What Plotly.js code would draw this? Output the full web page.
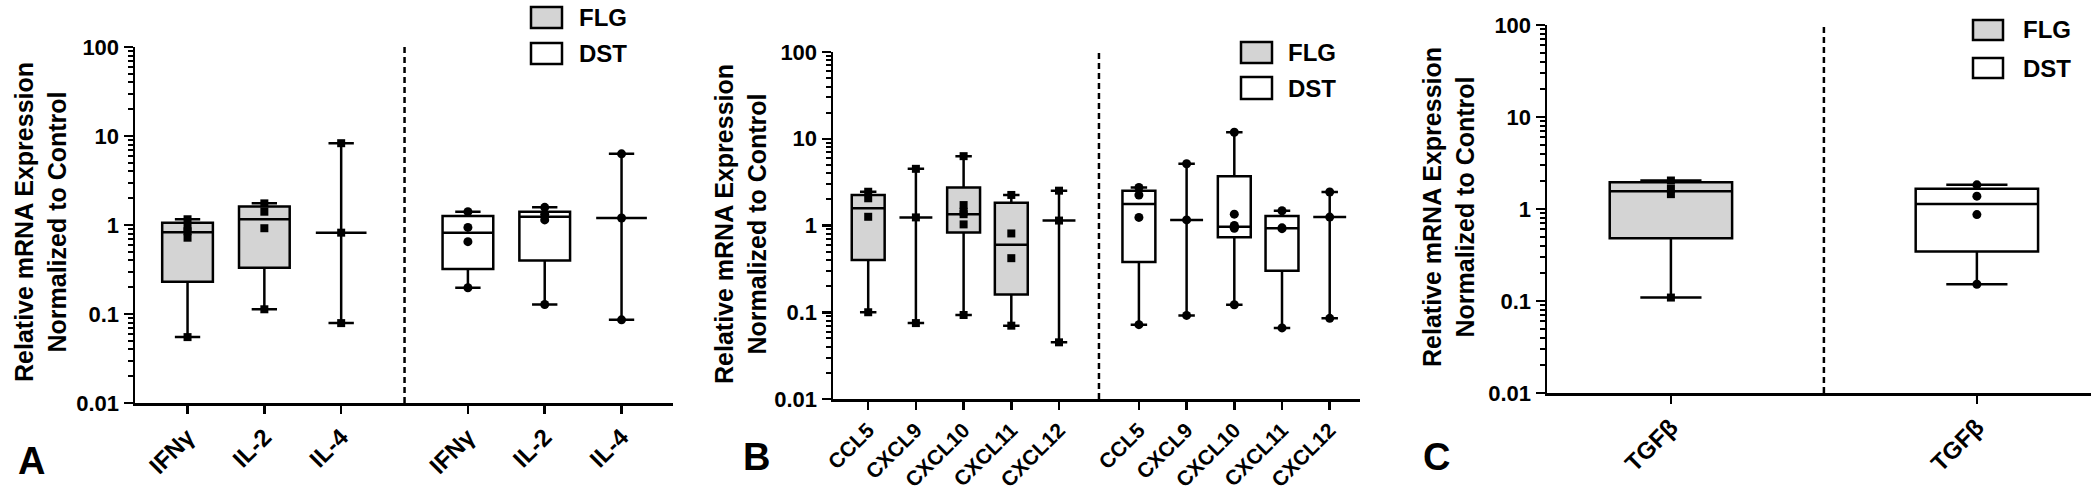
<!DOCTYPE html>
<html><head><meta charset="utf-8">
<script src="https://cdn.plot.ly/plotly-3.0.1.min.js"></script>
<style>html,body{margin:0;padding:0;background:#fff}</style>
</head><body>
<div id="chart" style="width:2100px;height:493px"></div>
<script>
// ---------- DATA ----------
// Panel A: cytokines
const catsA = ['IFNγ', 'IL-2', 'IL-4'];
const flgA_min = [0.055, 0.113, 0.079];
const flgA_q1  = [0.23, 0.33, 0.82];
const flgA_med = [0.83, 1.16, 0.82];
const flgA_q3  = [1.06, 1.61, 0.82];
const flgA_max = [1.16, 1.75, 8.3];
const flgA_pts = [[0.055, 0.72, 0.85, 0.95, 1.16], [0.113, 0.92, 1.41, 1.75], [0.079, 0.82, 8.3]];
const dstA_min = [0.197, 0.128, 0.086];
const dstA_q1  = [0.32, 0.40, 1.2];
const dstA_med = [0.82, 1.24, 1.2];
const dstA_q3  = [1.26, 1.41, 1.2];
const dstA_max = [1.41, 1.58, 6.3];
const dstA_pts = [[0.197, 0.65, 0.94, 1.41], [0.128, 1.14, 1.32, 1.58], [0.086, 1.2, 6.3]];

// Panel B: chemokines
const catsB = ['CCL5', 'CXCL9', 'CXCL10', 'CXCL11', 'CXCL12'];
const flgB_min = [0.10, 0.075, 0.093, 0.070, 0.045];
const flgB_q1  = [0.40, 1.24, 0.83, 0.16, 1.14];
const flgB_med = [1.58, 1.24, 1.35, 0.60, 1.14];
const flgB_q3  = [2.25, 1.24, 2.75, 1.83, 1.14];
const flgB_max = [2.45, 4.5, 6.3, 2.25, 2.52];
const flgB_pts = [[0.10, 1.26, 2.06, 2.45], [0.075, 1.24, 4.5], [0.093, 1.03, 1.35, 1.44, 1.72, 6.3], [0.070, 0.42, 0.81, 2.25], [0.045, 1.14, 2.52]];
const dstB_min = [0.072, 0.092, 0.122, 0.066, 0.085];
const dstB_q1  = [0.38, 1.16, 0.73, 0.30, 1.25];
const dstB_med = [1.77, 1.16, 0.97, 0.93, 1.25];
const dstB_q3  = [2.52, 1.16, 3.7, 1.29, 1.25];
const dstB_max = [2.75, 5.15, 11.9, 1.48, 2.43];
const dstB_pts = [[0.072, 1.24, 2.25, 2.75], [0.092, 1.16, 5.15], [0.122, 0.93, 0.97, 1.0, 1.35, 11.9], [0.066, 0.92, 0.94, 1.48], [0.085, 1.25, 2.43]];

// Panel C: TGF-beta
const catsC = ['TGFβ'];
const flgC_min = [0.109];
const flgC_q1  = [0.48];
const flgC_med = [1.56];
const flgC_q3  = [1.95];
const flgC_max = [2.04];
const flgC_pts = [[0.109, 1.45, 1.66, 2.04]];
const dstC_min = [0.152];
const dstC_q1  = [0.345];
const dstC_med = [1.13];
const dstC_q3  = [1.66];
const dstC_max = [1.83];
const dstC_pts = [[0.152, 0.87, 1.38, 1.83]];

const groupNames = ['FLG', 'DST'];
const yTickVals = [0.01, 0.1, 1, 10, 100];
const yTickText = ['0.01', '0.1', '1', '10', '100'];
const yTitle = 'Relative mRNA Expression<br>Normalized to Control';
const panelLetters = ['A', 'B', 'C'];

// ---------- LAYOUT CONFIG (pixels in 2100x493 page) ----------
const W = 2100, H = 493;
const FONT = 'Liberation Sans, Arial, Helvetica, sans-serif';
const GRAY = '#d4d4d4';
const LW = 2.5;
const panelCfg = [
  {x0: 135, x1: 673, yTop: 47, yBot: 403, range: [-0.684, 6.32], groupGap: 0.65, boxW: 0.66, xFont: 24,
   legend: {bx0: 531, bx1: 562, flgY: [7, 28], dstY: [43, 64], tx: 577},
   letter: {x: 31, y: 461}, title: {x: 40, y: 222}},
  {x0: 833, x1: 1360, yTop: 52, yBot: 399, range: [-0.738, 10.31], groupGap: 0.675, boxW: 0.69, xFont: 21,
   legend: {bx0: 1241, bx1: 1272, flgY: [42, 63], dstY: [77, 99], tx: 1286},
   letter: {x: 756, y: 457}, title: {x: 740, y: 224}},
  {x0: 1547, x1: 2091, yTop: 25, yBot: 393, range: [-0.405, 1.373], groupGap: 0, boxW: 0.40, xFont: 24,
   legend: {bx0: 1973, bx1: 2003, flgY: [20, 40], dstY: [58, 78], tx: 2021},
   letter: {x: 1436, y: 457}, title: {x: 1449, y: 207}}
];

const panels = [
  {cats: catsA,
   flg: {min: flgA_min, q1: flgA_q1, med: flgA_med, q3: flgA_q3, max: flgA_max, pts: flgA_pts},
   dst: {min: dstA_min, q1: dstA_q1, med: dstA_med, q3: dstA_q3, max: dstA_max, pts: dstA_pts}},
  {cats: catsB,
   flg: {min: flgB_min, q1: flgB_q1, med: flgB_med, q3: flgB_q3, max: flgB_max, pts: flgB_pts},
   dst: {min: dstB_min, q1: dstB_q1, med: dstB_med, q3: dstB_q3, max: dstB_max, pts: dstB_pts}},
  {cats: catsC,
   flg: {min: flgC_min, q1: flgC_q1, med: flgC_med, q3: flgC_q3, max: flgC_max, pts: flgC_pts},
   dst: {min: dstC_min, q1: dstC_q1, med: dstC_med, q3: dstC_q3, max: dstC_max, pts: dstC_pts}}
];

// minor log ticks 2..9 per decade
const minorVals = [];
for (let e = -2; e < 2; e++) for (let d = 2; d <= 9; d++) minorVals.push(d * Math.pow(10, e));

const px2x = p => p / W;
const px2y = p => 1 - p / H;

const data = [];
const layout = {
  width: W, height: H, autosize: false,
  margin: {l: 0, r: 0, t: 0, b: 0},
  paper_bgcolor: '#fff', plot_bgcolor: 'rgba(0,0,0,0)',
  showlegend: false,
  font: {family: FONT, color: '#000', weight: 'bold'},
  shapes: [], annotations: []
};

panels.forEach((p, i) => {
  const cfg = panelCfg[i];
  const n = i === 0 ? '' : String(i + 1);
  const xa = 'x' + n, ya = 'y' + n;
  const nc = p.cats.length;
  const groupPos = g => p.cats.map((c, k) => k + g * (nc + cfg.groupGap));
  const allPos = [];
  const allText = [];

  [p.flg, p.dst].forEach((s, g) => {
    const pos = groupPos(g);
    pos.forEach((v, k) => { allPos.push(v); allText.push(p.cats[k]); });
    data.push({
      type: 'box', name: groupNames[g], x: pos,
      q1: s.q1, median: s.med, q3: s.q3, lowerfence: s.min, upperfence: s.max,
      width: cfg.boxW, whiskerwidth: 0.5,
      fillcolor: g === 0 ? GRAY : '#ffffff',
      line: {color: '#000', width: LW},
      xaxis: xa, yaxis: ya, hoverinfo: 'y'
    });
    const px = [], py = [];
    s.pts.forEach((arr, k) => arr.forEach(v => { px.push(pos[k]); py.push(v); }));
    data.push({
      type: 'scatter', mode: 'markers', name: groupNames[g] + ' points',
      x: px, y: py, xaxis: xa, yaxis: ya,
      marker: {symbol: g === 0 ? 'square' : 'circle', size: g === 0 ? 8 : 9, color: '#000'},
      hoverinfo: 'y'
    });
  });

  layout['xaxis' + n] = {
    domain: [px2x(cfg.x0), px2x(cfg.x1)], anchor: ya, range: cfg.range,
    tickmode: 'array', tickvals: allPos, ticktext: allText, tickangle: -45,
    ticks: 'outside', ticklen: 8, tickwidth: LW, tickcolor: '#000',
    showline: true, linewidth: LW, linecolor: '#000',
    showgrid: false, zeroline: false, fixedrange: true,
    tickfont: {family: FONT, size: cfg.xFont, color: '#000', weight: 'bold'}
  };
  layout['yaxis' + n] = {
    domain: [px2y(cfg.yBot), px2y(cfg.yTop)], anchor: xa,
    type: 'log', range: [-2, 2],
    tickmode: 'array', tickvals: yTickVals, ticktext: yTickText,
    ticks: 'outside', ticklen: 9, tickwidth: LW, tickcolor: '#000',
    minor: {tickmode: 'array', tickvals: minorVals, ticks: 'outside', ticklen: 5, tickwidth: 2, tickcolor: '#000', showgrid: false},
    showline: true, linewidth: LW, linecolor: '#000',
    showgrid: false, zeroline: false, fixedrange: true,
    tickfont: {family: FONT, size: 22, color: '#000', weight: 'bold'}
  };

  // dashed divider between FLG and DST groups
  const lastF = groupPos(0)[nc - 1], firstD = groupPos(1)[0];
  layout.shapes.push({
    type: 'line', xref: xa, yref: ya + ' domain',
    x0: (lastF + firstD) / 2, x1: (lastF + firstD) / 2, y0: 0, y1: 1,
    line: {color: '#000', width: LW, dash: '6px,4px'}
  });

  // legend (box swatches + labels)
  const L = cfg.legend;
  [[L.flgY, GRAY, 'FLG'], [L.dstY, '#ffffff', 'DST']].forEach(([yy, fill, label]) => {
    layout.shapes.push({
      type: 'rect', xref: 'paper', yref: 'paper',
      x0: px2x(L.bx0), x1: px2x(L.bx1), y0: px2y(yy[1]), y1: px2y(yy[0]),
      fillcolor: fill, line: {color: '#000', width: LW}
    });
    layout.annotations.push({
      xref: 'paper', yref: 'paper', x: px2x(L.tx), y: px2y((yy[0] + yy[1]) / 2),
      xanchor: 'left', yanchor: 'middle', showarrow: false, text: label,
      font: {family: FONT, size: 24, color: '#000', weight: 'bold'}
    });
  });

  // y axis title
  layout.annotations.push({
    xref: 'paper', yref: 'paper', x: px2x(cfg.title.x), y: px2y(cfg.title.y),
    xanchor: 'center', yanchor: 'middle', showarrow: false, textangle: -90,
    text: yTitle, font: {family: FONT, size: 25, color: '#000', weight: 'bold'}
  });

  // panel letter
  layout.annotations.push({
    xref: 'paper', yref: 'paper', x: px2x(cfg.letter.x), y: px2y(cfg.letter.y),
    xanchor: 'center', yanchor: 'middle', showarrow: false,
    text: panelLetters[i], font: {family: FONT, size: 38, color: '#000', weight: 'bold'}
  });
});

Plotly.newPlot('chart', data, layout, {displayModeBar: false, staticPlot: true});
</script>
</body></html>
